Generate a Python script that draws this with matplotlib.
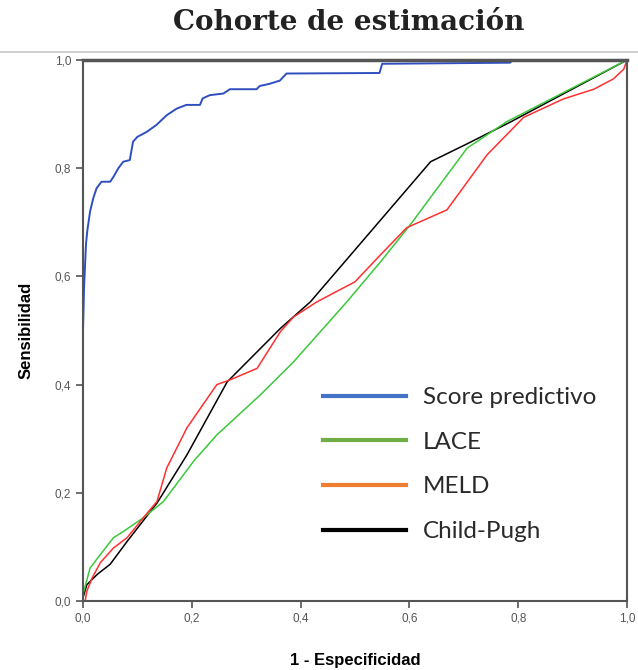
import numpy as np
import matplotlib
matplotlib.use('Agg')
import matplotlib.pyplot as plt
from matplotlib.lines import Line2D
from matplotlib.ticker import FuncFormatter

# curvas ROC
score_x = [0, 0, 0.002, 0.0055, 0.008, 0.013, 0.019, 0.025, 0.034, 0.05, 0.056, 0.065, 0.074, 0.086,
           0.092, 0.10, 0.117, 0.135, 0.154, 0.172, 0.19, 0.215, 0.22, 0.233, 0.258, 0.27, 0.319, 0.325,
           0.343, 0.362, 0.374, 0.545, 0.55, 0.785, 0.79, 1.0]
score_y = [0, 0.5, 0.58, 0.66, 0.685, 0.72, 0.745, 0.763, 0.775, 0.775, 0.784, 0.80, 0.812, 0.815,
           0.849, 0.858, 0.867, 0.88, 0.898, 0.91, 0.917, 0.917, 0.929, 0.935, 0.938, 0.946, 0.946, 0.952,
           0.956, 0.962, 0.975, 0.976, 0.993, 0.995, 1.0, 1.0]

lace_x = [0, 0.013, 0.032, 0.056, 0.075, 0.111, 0.148, 0.203, 0.246, 0.326, 0.387, 0.485, 0.547, 0.602,
          0.706, 0.779, 1.0]
lace_y = [0.012, 0.061, 0.086, 0.117, 0.129, 0.154, 0.184, 0.258, 0.307, 0.381, 0.442, 0.553, 0.627, 0.696,
          0.837, 0.886, 1.0]

meld_x = [0.004, 0.007, 0.017, 0.032, 0.056, 0.081, 0.111, 0.136, 0.154, 0.191, 0.246, 0.271, 0.32, 0.363,
          0.387, 0.43, 0.5, 0.547, 0.595, 0.669, 0.743, 0.81, 0.883, 0.939, 0.975, 0.994, 1.0]
meld_y = [0, 0.018, 0.043, 0.071, 0.098, 0.117, 0.154, 0.184, 0.246, 0.32, 0.40, 0.409, 0.43, 0.498,
          0.525, 0.553, 0.59, 0.64, 0.69, 0.723, 0.825, 0.894, 0.928, 0.946, 0.965, 0.983, 1.0]

child_x = [0, 0.007, 0.026, 0.05, 0.081, 0.136, 0.191, 0.265, 0.363, 0.418, 0.639, 0.706, 0.785, 1.0]
child_y = [0.006, 0.03, 0.049, 0.068, 0.11, 0.181, 0.27, 0.405, 0.504, 0.553, 0.812, 0.845, 0.885, 1.0]

labels = ['Score predictivo', 'LACE', 'MELD', 'Child-Pugh']
legend_colors = ['#4472C4', '#70AD47', '#ED7D31', '#000000']
ticks = [0.0, 0.2, 0.4, 0.6, 0.8, 1.0]

fig = plt.figure(figsize=(6.38, 6.70), dpi=100)
ax = fig.add_axes([83/638, 1 - 601/670, 544/638, 541/670])

ax.plot(child_x, child_y, color='#000000', lw=1.1)
ax.plot(lace_x, lace_y, color='#3cc83c', lw=1.1)
ax.plot(meld_x, meld_y, color='#ff3030', lw=1.1)
ax.plot(score_x, score_y, color='#2f4fc0', lw=1.4)

ax.set_xlim(0, 1)
ax.set_ylim(0, 1)
ax.set_xticks(ticks)
ax.set_yticks(ticks)
fmt = FuncFormatter(lambda v, p: ('%.1f' % v).replace('.', ','))
ax.xaxis.set_major_formatter(fmt)
ax.yaxis.set_major_formatter(fmt)
ax.tick_params(length=5, width=1.2, color='#555555', labelsize=8.5, labelcolor='#555555')
for s in ax.spines.values():
    s.set_color('#555555')
    s.set_linewidth(1.5)
ax.spines['top'].set_linewidth(2.5)

ax.set_xlabel('1 - Especificidad', fontsize=12, fontweight='bold', family='Liberation Sans', labelpad=20)
ax.set_ylabel('Sensibilidad', fontsize=12, fontweight='bold', family='Liberation Sans', labelpad=15)
for t in ax.get_xticklabels() + ax.get_yticklabels():
    t.set_family('Liberation Sans')

# linea gris superior
fig.add_artist(Line2D([0, 1], [1 - 52/670, 1 - 52/670], color='#c8c8c8', lw=1.2))
fig.text(349/638, 1 - 23/670, 'Cohorte de estimación', ha='center', va='center',
         fontsize=20, fontweight='bold', family='DejaVu Serif', color='#222222')

handles = [Line2D([], [], color=c, lw=3) for c in legend_colors]
ax.legend(handles, labels, loc='upper left', bbox_to_anchor=(0.441, 0.395), frameon=False,
          borderpad=0, borderaxespad=0, handlelength=3.4, handletextpad=0.7, labelspacing=0.97,
          prop={'family': 'Lato', 'size': 17.5}, labelcolor='#2a2a2a')

fig.savefig('out.png', dpi=100)
